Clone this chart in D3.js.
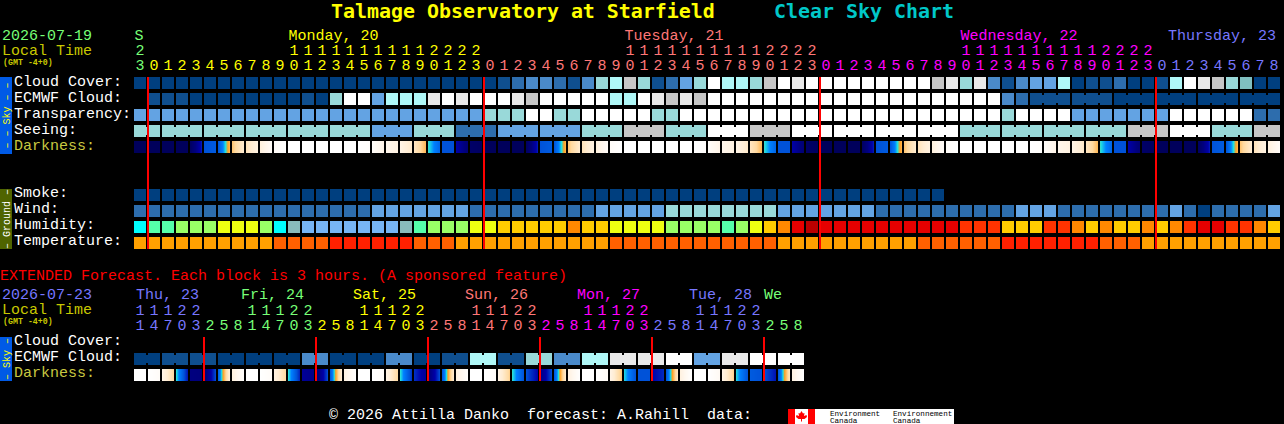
<!DOCTYPE html>
<html>
<head>
<meta charset="utf-8">
<title>Clear Sky Chart</title>
<script src="https://cdnjs.cloudflare.com/ajax/libs/d3/7.8.5/d3.min.js"></script>
<style>
html, body { margin: 0; padding: 0; background: #000; overflow: hidden; }
svg { display: block; }
text { font-family: "Liberation Mono", monospace; font-size: 15px; white-space: pre; }
rect { shape-rendering: crispEdges; }
</style>
</head>
<body>
<div id="chart"></div>
<script>
// tick labels, hour of each block
const hours = [23,
    0,1,2,3,4,5,6,7,8,9,10,11,12,13,14,15,16,17,18,19,20,21,22,23,
    0,1,2,3,4,5,6,7,8,9,10,11,12,13,14,15,16,17,18,19,20,21,22,23,
    0,1,2,3,4,5,6,7,8,9,10,11,12,13,14,15,16,17,18,19,20,21,22,23,
    0,1,2,3,4,5,6,7,8];
const hourDay = [0,
    1,1,1,1,1,1,1,1,1,1,1,1,1,1,1,1,1,1,1,1,1,1,1,1,
    2,2,2,2,2,2,2,2,2,2,2,2,2,2,2,2,2,2,2,2,2,2,2,2,
    3,3,3,3,3,3,3,3,3,3,3,3,3,3,3,3,3,3,3,3,3,3,3,3,
    4,4,4,4,4,4,4,4,4];
const extHours = [11,14,17,20,23, 2,5,8,11,14,17,20,23, 2,5,8,11,14,17,20,23, 2,5,8,11,14,17,20,23,
    2,5,8,11,14,17,20,23, 2,5,8,11,14,17,20,23, 2,5,8];
const extHourDay = [4,4,4,4,4, 0,0,0,0,0,0,0,0, 1,1,1,1,1,1,1,1, 2,2,2,2,2,2,2,2,
    3,3,3,3,3,3,3,3, 4,4,4,4,4,4,4,4, 0,0,0];

const dayNames = ["S", "Monday, 20", "Tuesday, 21", "Wednesday, 22", "Thursday, 23"];
const dayCols = [0, 11, 35, 59, 74];
const dayColorIdx = [0, 1, 2, 3, 4];
const extDayNames = ["Thu, 23", "Fri, 24", "Sat, 25", "Sun, 26", "Mon, 27", "Tue, 28", "We"];
const extDayCols = [0, 8, 16, 24, 32, 40, 45];
const extDayColorIdx = [4, 0, 1, 2, 3, 4, 0];
const midnightCols = [1, 25, 49, 73];
const extMidnightCols = [5, 13, 21, 29, 37, 45];

// sky levels, 0 = best (dark blue) .. 10 = worst (white)
const cloudCover = [0,0,0,0,0,0,0,0,0,0,0,0,0,0,0,0,0,0,0,0,0,0,0,0,0,0,1,2,3,3,2,1,3,6,7,8,6,1,2,4,6,10,7,7,6,8,10,9,10,10,10,10,
    10,10,10,10,10,8,9,6,9,3,1,3,4,4,7,0,1,1,2,0,0,1,7,10,9,8,6,5,0,0];
const ecmwfCloud = [null,1,1,1,0,0,0,0,0,0,0,0,1,0,6,10,10,4,7,7,7,9,10,9,10,10,10,9,8,10,10,10,10,10,7,7,10,9,8,9,8,
    10,10,10,10,10,10,10,10,10,10,10,10,10,10,10,10,10,10,10,10,10,3,2,1,1,1,1,1,1,0,0,0,0,0,0,0,0,0,0,0,0];
const transparency = [4,4,4,4,4,4,4,4,4,4,4,4,4,4,4,4,4,4,4,4,4,4,4,4,4,6,6,6,10,10,6,6,10,10,10,10,10,6,6,
    10,10,10,10,10,10,10,10,10,10,10,10,10,10,10,10,10,10,10,10,10,10,10,6,10,10,10,10,4,4,4,4,4,4,4,10,10,10,10,10,10,2,2];
const seeing = [6,6,6,6,6,6,6,6,6,6,6,6,6,6,6,6,6,4,4,4,6,6,6,2,2,2,4,4,4,4,4,4,6,6,6,8,8,8,6,6,6,10,10,10,8,8,8,
    10,10,10,10,10,10,10,10,10,10,10,10,6,6,6,6,6,6,6,6,6,6,6,6,8,8,8,10,10,10,6,6,6,8,8];
const extEcmwf = [0,0,1,1,1,1,0,0,0,0,0,0,3,3,0,0,0,0,3,3,0,0,1,1,7,7,1,1,6,6,3,3,7,7,9,9,9,9,10,10,4,4,9,9,10,10,10,10];

const smoke = [0,0,0,0,0,0,0,0,0,0,0,0,0,0,0,0,0,0,0,0,0,0,0,0,0,0,0,0,0,0,0,0,0,0,0,0,0,0,0,0,0,0,0,0,0,0,0,0,0,0,0,0,0,0,0,0,0,0];
const wind = [2,2,2,2,2,2,2,2,2,2,2,2,2,2,2,2,2,4,4,4,4,4,4,4,2,2,2,2,2,2,2,2,2,4,4,4,4,4,6,6,6,6,6,6,6,6,4,4,4,4,4,4,
    4,2,2,2,2,2,2,2,2,2,2,4,4,4,2,2,2,2,2,2,2,2,4,2,0,2,2,2,2,4];
const humidity = [2,3,3,4,4,4,5,5,5,4,2,1,0,0,0,0,0,0,0,1,3,4,4,4,5,5,6,6,6,6,6,7,6,6,5,5,5,5,4,4,4,4,3,4,5,6,7,9,10,9,9,9,
    9,9,9,9,9,9,9,8,8,8,6,6,6,8,8,7,6,7,6,6,7,6,7,8,9,9,8,8,7,6];
const temperature = [0,0,0,0,0,0,0,0,0,0,1,1,1,1,2,2,2,2,2,2,1,1,1,0,0,0,0,0,0,0,0,0,0,0,1,1,1,1,1,1,1,1,1,1,1,1,0,0,0,0,0,0,
    0,0,0,0,1,1,1,1,1,1,2,2,2,2,2,2,2,1,1,1,0,0,0,0,0,0,0,0,0,0];

// darkness at the left and right edge of each block
const darkFrom = [.5,.5,.5,.5,.7,4,4,6.6,7.5,8.4,9.6,10,10,10,10,10,10,9.7,9,8.8,7.7,5.6,4,3,1,.5,.5,.5,
    .7,4,4,6.6,7.5,8.4,9.6,10,10,10,10,10,10,9.7,9,8.8,7.7,5.6,4,3,1,.5,.5,.5,
    .7,4,4,6.6,7.5,8.4,9.6,10,10,10,10,10,10,9.7,9,8.8,7.7,5.6,4,3,1,.5,.5,.5,
    .7,4,4,6.6,7.5,8.4];
const darkTo = [.5,.5,.5,.5,3.4,4.2,6.4,8,8.6,9.6,10,10,10,10,10,10,9.8,8.8,8.6,7.8,6.4,4.4,4,1.5,.7,.5,.5,.5,
    3.4,4.2,6.4,8,8.6,9.6,10,10,10,10,10,10,9.8,8.8,8.6,7.8,6.4,4.4,4,1.5,.7,.5,.5,.5,
    3.4,4.2,6.4,8,8.6,9.6,10,10,10,10,10,10,9.8,8.8,8.6,7.8,6.4,4.4,4,1.5,.7,.5,.5,.5,
    3.4,4.2,6.4,8,8.6,9.6];
const extDarkFrom = [10,10,8.8,5.6,2,1.5,4.2,8.4, 10,10,8.6,5.6,2.6,1.4,4,8.6, 10,10,8.7,5.6,3.6,1.6,4,8.5,
    10,10,8.7,5.6,4,2,4,8.5, 10,10,8.8,5.5,4,3,4,8.5, 10,10,8.8,5.5,4.2,4,4,8.5];
const extDarkTo = [10,9.6,7,3.2,1.8,4,8.4,9.8, 10,9.6,7,3.4,2.2,4,8.2,9.9, 10,9.6,7,3.6,2.6,4,8,9.8,
    10,9.6,6.8,4,3,4,8,10, 10,9.5,6.6,4,4,3.5,7.8,10, 10,9.4,6.8,4,4,3.2,7.6,10];

const skyColors = ["#003f7f", "#0f4f8f", "#2d6dad", "#4a8aca", "#63a3e3", "#80c0c0", "#99d9d9", "#aff7f7", "#c6c6c6", "#e9e9e9", "#ffffff"];
const humidityColors = ["#77b5f5", "#88bbbb", "#00ffff", "#55ffaa", "#99ff66", "#eeff11", "#ffcc00", "#ff8800", "#ff3300", "#e60000", "#bb0000"];
const temperatureColors = ["#ffa000", "#ff6000", "#ff2000"];
const dayColors = ["#77ff77", "#ffff00", "#ff7777", "#ff00ff", "#7777ff"];
const darkStops = [0, 2, 3, 4, 5, 5.5, 6, 7, 8, 9, 10];
const darkColors = ["#00004f", "#000080", "#0000a8", "#0052d8", "#0080ff", "#20e0e0", "#ffa020", "#ffd9a0", "#ffecd2", "#fff6ec", "#ffffff"];

const blockSize = 12;
const blockStep = 14;
const left = 134;

const x = d3.scaleBand()
    .domain(d3.range(hours.length))
    .range([left, left + hours.length * blockStep - 2])
    .paddingInner(2 / blockStep);
const xExt = d3.scaleBand()
    .domain(d3.range(extHours.length))
    .range([left, left + extHours.length * blockStep - 2])
    .paddingInner(2 / blockStep);

const skyColor = d3.scaleOrdinal(d3.range(skyColors.length), skyColors);
const humidityColor = d3.scaleOrdinal(d3.range(humidityColors.length), humidityColors);
const temperatureColor = d3.scaleOrdinal(d3.range(temperatureColors.length), temperatureColors);
const darkColor = d3.scaleLinear().domain(darkStops).range(darkColors);

const svg = d3.select("#chart").append("svg")
    .attr("width", 1284)
    .attr("height", 424);

function addText(s, px, py, color, size, weight) {
    return svg.append("text")
        .attr("x", px)
        .attr("y", py)
        .attr("fill", color)
        .style("font-size", (size || 15) + "px")
        .style("font-weight", weight || "normal")
        .text(s);
}

// one row of blocks. join = [size of group, first col, col to start from] draws the little
// bridges between blocks of one group
function blockRow(values, scale, color, y, join) {
    const g = svg.append("g");
    const cols = values.map((v, i) => ({ v: v, i: i })).filter(d => d.v !== null);
    g.selectAll("rect.block")
        .data(cols)
        .enter().append("rect")
        .attr("class", "block")
        .attr("x", d => Math.round(scale(d.i)))
        .attr("y", y)
        .attr("width", blockSize)
        .attr("height", blockSize)
        .attr("fill", d => color(d.v));
    if (join) {
        const bridges = cols.filter(d => d.i >= join[2]
            && d.i < values.length - 1
            && (d.i - join[1] + join[0]) % join[0] !== join[0] - 1);
        g.selectAll("rect.bridge")
            .data(bridges)
            .enter().append("rect")
            .attr("class", "bridge")
            .attr("x", d => Math.round(scale(d.i)) + blockSize)
            .attr("y", y + 2)
            .attr("width", blockStep - blockSize)
            .attr("height", blockSize - 4)
            .attr("fill", d => color(d.v));
    }
}

function darknessRow(from, to, scale, y) {
    const slices = [];
    from.forEach((f, i) => {
        d3.range(blockSize).forEach(s => {
            slices.push({ i: i, s: s, v: f + (to[i] - f) * (s + 0.5) / blockSize });
        });
    });
    svg.append("g").selectAll("rect")
        .data(slices)
        .enter().append("rect")
        .attr("x", d => Math.round(scale(d.i)) + d.s)
        .attr("y", y)
        .attr("width", 1)
        .attr("height", blockSize)
        .attr("fill", d => darkColor(d.v));
}

function hourLabels(hrs, days, scale, tensY, onesY) {
    const g = svg.append("g").attr("text-anchor", "middle");
    g.selectAll("text.ones")
        .data(hrs)
        .enter().append("text")
        .attr("class", "ones")
        .attr("x", (d, i) => scale(i) + blockSize / 2)
        .attr("y", onesY)
        .attr("fill", (d, i) => dayColors[days[i]])
        .text(d => d % 10);
    g.selectAll("text.tens")
        .data(hrs.map((h, i) => ({ h: h, i: i })).filter(d => d.h >= 10))
        .enter().append("text")
        .attr("class", "tens")
        .attr("x", d => scale(d.i) + blockSize / 2)
        .attr("y", tensY)
        .attr("fill", d => dayColors[days[d.i]])
        .text(d => Math.floor(d.h / 10));
}

function redLines(cols, scale, y0, y1) {
    svg.append("g").selectAll("rect")
        .data(cols)
        .enter().append("rect")
        .attr("x", d => Math.round(scale(d)) - 1)
        .attr("y", y0)
        .attr("width", 2)
        .attr("height", y1 - y0)
        .attr("fill", "#ff0000");
}

function sideBar(y0, y1, color, label, textColor) {
    svg.append("rect")
        .attr("x", 0)
        .attr("y", y0)
        .attr("width", 12)
        .attr("height", y1 - y0)
        .attr("fill", color);
    svg.append("text")
        .attr("transform", `translate(9.5,${(y0 + y1) / 2}) rotate(-90)`)
        .attr("text-anchor", "middle")
        .attr("fill", textColor)
        .style("font-size", "10px")
        .text(label);
}

// title, the bold DejaVu is closer to the tall letters of the original
addText("Talmage Observatory at Starfield", 331, 18, "#ffff00", 19.93, "bold")
    .style("font-family", "DejaVu Sans Mono");
addText("Clear Sky Chart", 774, 18, "#00c8c8", 19.93, "bold")
    .style("font-family", "DejaVu Sans Mono");

// main chart header
addText("2026-07-19", 2, 40, "#77ff77");
addText("Local Time", 2, 55, "#c8c800");
addText("(GMT -4+0)", 3, 65, "#c8c800", 8.3, "bold");
dayNames.forEach((d, i) => {
    const w = d.length * 9;
    const px = Math.min(x(dayCols[i]) + 0.5, 1276 - w);
    addText(d, px, 40, dayColors[dayColorIdx[i]]);
});
hourLabels(hours, hourDay, x, 55, 70);

// main chart rows
sideBar(77, 154, "#005ae6", "\u2013 \u2013 Sky \u2013 \u2013", "#ffff00");
sideBar(189, 249, "#4f6400", "\u2013 Ground \u2013", "#ffffff");

blockRow(cloudCover, x, skyColor, 77);
blockRow(ecmwfCloud, x, skyColor, 93, [3, 1, 64]);
blockRow(transparency, x, skyColor, 109);
blockRow(seeing, x, skyColor, 125, [3, 2, 0]);
darknessRow(darkFrom, darkTo, x, 141);
blockRow(smoke, x, skyColor, 189);
blockRow(wind, x, skyColor, 205);
blockRow(humidity, x, humidityColor, 221);
blockRow(temperature, x, temperatureColor, 237);

addText("Cloud Cover:", 14, 86, "#ffffff");
addText("ECMWF Cloud:", 14, 102, "#ffffff");
addText("Transparency:", 14, 118, "#ffffff");
addText("Seeing:", 14, 134, "#ffffff");
addText("Darkness:", 14, 150, "#c8c840");
addText("Smoke:", 14, 197, "#ffffff");
addText("Wind:", 14, 213, "#ffffff");
addText("Humidity:", 14, 229, "#ffffff");
addText("Temperature:", 14, 245, "#ffffff");

redLines(midnightCols, x, 77, 249);

// extended forecast
addText("EXTENDED Forecast. Each block is 3 hours. (A sponsored feature)", 0, 280, "#ff0000");
addText("2026-07-23", 2, 299, "#7777ff");
addText("Local Time", 2, 314, "#c8c800");
addText("(GMT -4+0)", 3, 324, "#c8c800", 8.3, "bold");
extDayNames.forEach((d, i) => {
    const nudge = extDayCols[i] === 0 ? 2 : (i === extDayNames.length - 1 ? 0 : -5);
    addText(d, xExt(extDayCols[i]) + nudge, 299, dayColors[extDayColorIdx[i]]);
});
hourLabels(extHours, extHourDay, xExt, 315, 330);

sideBar(337, 381, "#005ae6", "\u2013 Sky \u2013", "#ffff00");
blockRow(extEcmwf, xExt, skyColor, 353, [2, 0, 0]);
darknessRow(extDarkFrom, extDarkTo, xExt, 369);
addText("Cloud Cover:", 14, 345, "#ffffff");
addText("ECMWF Cloud:", 14, 361, "#ffffff");
addText("Darkness:", 14, 377, "#c8c840");
redLines(extMidnightCols, xExt, 337, 381);

// footer
addText("\u00a9 2026 Attilla Danko  forecast: A.Rahill  data:", 329, 419, "#ffffff");
svg.append("rect").attr("x", 788).attr("y", 409).attr("width", 166).attr("height", 15).attr("fill", "#ffffff");
svg.append("rect").attr("x", 788).attr("y", 409).attr("width", 7).attr("height", 15).attr("fill", "#ff0000");
svg.append("rect").attr("x", 808).attr("y", 409).attr("width", 7).attr("height", 15).attr("fill", "#ff0000");
svg.append("path")
    .attr("transform", "translate(801.5,411)")
    .attr("d", "M0,0 L1.5,2.5 L3,2 L2.5,5 L5,4 L5.5,6 L3,8 L0.5,8 L0.5,10.5 L-0.5,10.5 L-0.5,8 L-3,8 L-5.5,6 L-5,4 L-2.5,5 L-3,2 L-1.5,2.5 Z")
    .attr("fill", "#ff0000");
[[830, "Environment"], [893, "Environnement"]].forEach(d => {
    addText(d[1], d[0], 416, "#000000", 7.6);
    addText("Canada", d[0], 423, "#000000", 7.6);
});
</script>
</body>
</html>
